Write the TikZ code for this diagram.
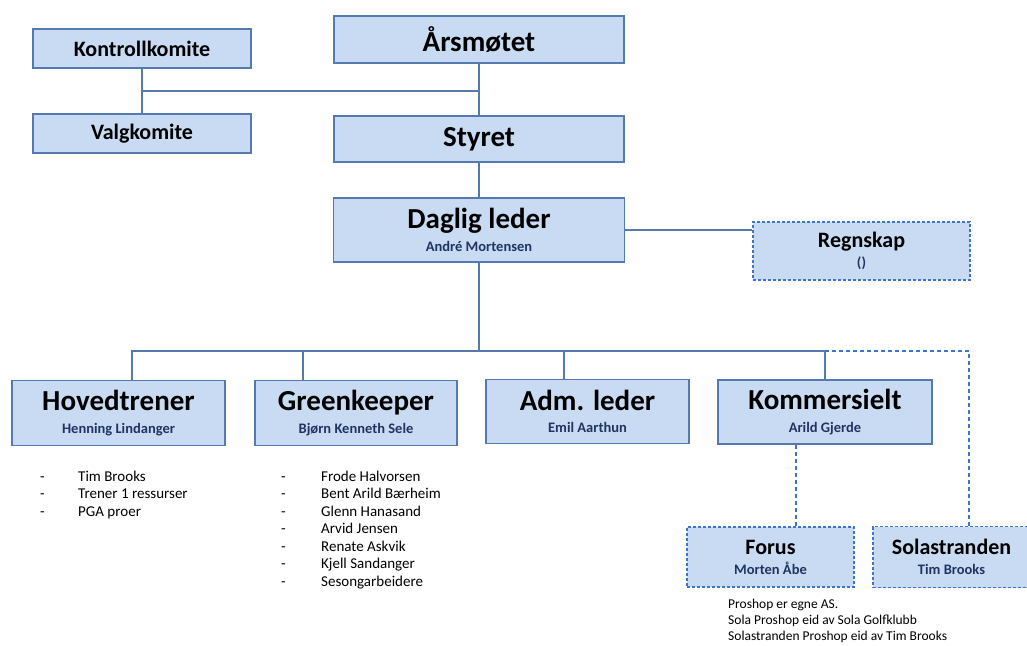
\documentclass[tikz,border=0pt]{standalone}
\usepackage{fontspec}
\setmainfont{Carlito}
\usepackage{xcolor}
\usetikzlibrary{positioning,calc}
\definecolor{boxfill}{RGB}{200,219,242}
\definecolor{boxline}{RGB}{84,122,176}
\definecolor{dashline}{RGB}{58,118,208}
\definecolor{namecol}{RGB}{31,52,98}
\newcommand{\bigtitle}[1]{{\fontsize{29}{30}\selectfont\bfseries #1}}
\newcommand{\midtitle}[1]{{\fontsize{22}{24}\selectfont\bfseries #1}}
\newcommand{\subname}[1]{{\fontsize{14.5}{16}\selectfont\bfseries\color{namecol}#1}}

\begin{document}
\begin{tikzpicture}[
    x=1pt, y=-1pt,
    orgbox/.style={draw=boxline, fill=boxfill, line width=1.3pt, inner sep=0pt, align=center, font=\fontsize{14.5}{22.5}\selectfont},
    dashbox/.style={draw=dashline, fill=boxfill, line width=1.1pt, dash pattern=on 3pt off 2pt, inner sep=0pt, align=center, font=\fontsize{14.5}{20}\selectfont},
    link/.style={draw=boxline, line width=1.5pt},
    dlink/.style={draw=dashline, line width=1.4pt, dash pattern=on 4pt off 3pt},
    listtext/.style={inner sep=0pt, anchor=north west, font=\fontsize{15}{17.5}\selectfont}
]
\fill[white] (0,0) rectangle (1027,645);
\useasboundingbox (0,0) rectangle (1027,645);

% top level
\node[orgbox, minimum width=218pt, minimum height=39pt] (kontroll) at (142,48.5) {\midtitle{Kontrollkomite}};
\node[orgbox, minimum width=218pt, minimum height=39pt] (valg) at (142,133.5) {\midtitle{Valgkomite}};
\node[orgbox, minimum width=290pt, minimum height=47pt] (aarsmote) at (479,39.5) {\bigtitle{Årsmøtet}};
\node[orgbox, minimum width=290pt, minimum height=46pt] (styret) at (479,139) {\bigtitle{Styret}};
\node[orgbox, minimum width=291pt, minimum height=64pt] (daglig) at (479,230) {\bigtitle{Daglig leder}\\\subname{André Mortensen}};
\node[dashbox, minimum width=217pt, minimum height=58pt] (regnskap) at (861.5,251) {\midtitle{Regnskap}\\\subname{()}};

% avdelinger
\node[orgbox, minimum width=213pt, minimum height=65pt] (hoved) at (118.5,413) {\bigtitle{Hovedtrener}\\\subname{Henning Lindanger}};
\node[orgbox, minimum width=202pt, minimum height=65pt] (green) at (356,413) {\bigtitle{Greenkeeper}\\\subname{Bjørn Kenneth Sele}};
\node[orgbox, minimum width=203pt, minimum height=64pt] (adm) at (587.5,411.5) {\bigtitle{Adm. leder}\\\subname{Emil Aarthun}};
\node[orgbox, minimum width=214pt, minimum height=64pt] (komm) at (825,412) {\bigtitle{Kommersielt}\\\subname{Arild Gjerde}};

% proshop
\node[dashbox, minimum width=167pt, minimum height=60pt] (forus) at (770.5,557) {\midtitle{Forus}\\\subname{Morten Åbe}};
\node[dashbox, minimum width=157pt, minimum height=61pt] (sola) at (951.5,557) {\midtitle{Solastranden}\\\subname{Tim Brooks}};

% lister
\node[listtext] (hovedlist) at (40,469) {\begin{tabular}{@{}p{38pt}@{}l@{}}
- & Tim Brooks\\
- & Trener 1 ressurser\\
- & PGA proer
\end{tabular}};
\node[listtext] (greenlist) at (281,469) {\begin{tabular}{@{}p{40pt}@{}l@{}}
- & Frode Halvorsen\\
- & Bent Arild Bærheim\\
- & Glenn Hanasand\\
- & Arvid Jensen\\
- & Renate Askvik\\
- & Kjell Sandanger\\
- & Sesongarbeidere
\end{tabular}};
\node[inner sep=0pt, anchor=north west, align=left, font=\fontsize{13.5}{16}\selectfont] (note) at (728,599) {Proshop er egne AS.\\Sola Proshop eid av Sola Golfklubb\\Solastranden Proshop eid av Tim Brooks};

% linjer
\coordinate (mid) at ($(kontroll.south)!0.5!(valg.north)$);
\coordinate (bus) at (479,351);
\draw[link] (aarsmote.south) -- (styret.north);
\draw[link] (kontroll.south) -- (valg.north);
\draw[link] (mid) -- (mid -| aarsmote.south);
\draw[link] (styret.south) -- (daglig.north);
\draw[link] (daglig.east) -- (daglig.east -| regnskap.west);
\draw[link] (daglig.south) -- (bus);
\draw[link] ([xshift=13.5pt]hoved.north) |- (bus);
\draw[link] ([xshift=-53pt]green.north) -- ([xshift=-53pt]green.north |- bus);
\draw[link] ([xshift=-23.5pt]adm.north) -- ([xshift=-23.5pt]adm.north |- bus);
\draw[link] (komm.north) |- (bus);
\draw[dlink] (komm.north |- bus) -| ([xshift=17.5pt]sola.north);
\draw[dlink] ([xshift=-29pt]komm.south) -- ([xshift=-29pt]komm.south |- forus.north);
\end{tikzpicture}
\end{document}
